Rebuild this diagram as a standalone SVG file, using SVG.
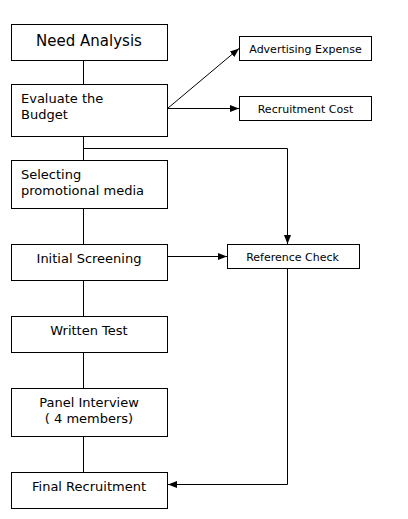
<svg xmlns="http://www.w3.org/2000/svg" width="408" height="519" viewBox="0 0 408 519">
<style>
.box{fill:#fff;stroke:#000;stroke-width:1}
.t{font-family:"DejaVu Sans",Verdana,sans-serif;fill:#000}
.big{font-size:15px}
.mid{font-size:13px}
.sm{font-size:11px}
.c{text-anchor:middle}
.ln{fill:none;stroke:#000;stroke-width:1}
</style>
<defs>
<marker id="ah" markerUnits="userSpaceOnUse" markerWidth="10" markerHeight="8" refX="9" refY="3.5" orient="auto">
<path d="M0,0 L9,3.5 L0,7 z" fill="#000"/>
</marker>
</defs>
<rect width="408" height="519" fill="#fff"/>
<g id="connectors">
<line class="ln" x1="83.5" y1="60.5" x2="83.5" y2="84.5"/>
<line class="ln" x1="83.5" y1="136.5" x2="83.5" y2="160.5"/>
<line class="ln" x1="83.5" y1="208.5" x2="83.5" y2="244.5"/>
<line class="ln" x1="83.5" y1="280.5" x2="83.5" y2="316.5"/>
<line class="ln" x1="83.5" y1="352.5" x2="83.5" y2="388.5"/>
<line class="ln" x1="83.5" y1="436.5" x2="83.5" y2="472.5"/>
<polyline class="ln" points="83.5,148.5 287.5,148.5 287.5,244" marker-end="url(#ah)"/>
<line class="ln" x1="167.5" y1="108.5" x2="239" y2="48.5" marker-end="url(#ah)"/>
<line class="ln" x1="167.5" y1="108.5" x2="239" y2="108.5" marker-end="url(#ah)"/>
<line class="ln" x1="167.5" y1="256.5" x2="227" y2="256.5" marker-end="url(#ah)"/>
<polyline class="ln" points="287.5,268.5 287.5,484.5 168,484.5" marker-end="url(#ah)"/>
</g>
<g id="need-analysis">
<rect class="box" x="11.5" y="24.5" width="156" height="36"/>
<text class="t big c" x="89" y="46">Need Analysis</text>
</g>
<g id="evaluate-budget">
<rect class="box" x="11.5" y="84.5" width="156" height="52"/>
<text class="t mid" x="21" y="103">Evaluate the</text>
<text class="t mid" x="21" y="119">Budget</text>
</g>
<g id="selecting-media">
<rect class="box" x="11.5" y="160.5" width="156" height="48"/>
<text class="t mid" x="21" y="179">Selecting</text>
<text class="t mid" x="21" y="195">promotional media</text>
</g>
<g id="initial-screening">
<rect class="box" x="11.5" y="244.5" width="156" height="36"/>
<text class="t mid c" x="89" y="263">Initial Screening</text>
</g>
<g id="written-test">
<rect class="box" x="11.5" y="316.5" width="156" height="36"/>
<text class="t mid c" x="89" y="335">Written Test</text>
</g>
<g id="panel-interview">
<rect class="box" x="11.5" y="388.5" width="156" height="48"/>
<text class="t mid c" x="89" y="407">Panel Interview</text>
<text class="t mid c" x="89" y="423">( 4 members)</text>
</g>
<g id="final-recruitment">
<rect class="box" x="11.5" y="472.5" width="156" height="36"/>
<text class="t mid c" x="89" y="491">Final Recruitment</text>
</g>
<g id="advertising-expense">
<rect class="box" x="239.5" y="36.5" width="132" height="24"/>
<text class="t sm c" x="305.5" y="52.5">Advertising Expense</text>
</g>
<g id="recruitment-cost">
<rect class="box" x="239.5" y="96.5" width="132" height="24"/>
<text class="t sm c" x="305.5" y="112.5">Recruitment Cost</text>
</g>
<g id="reference-check">
<rect class="box" x="227.5" y="244.5" width="132" height="24"/>
<text class="t sm c" x="292.5" y="260.5">Reference Check</text>
</g>
</svg>
